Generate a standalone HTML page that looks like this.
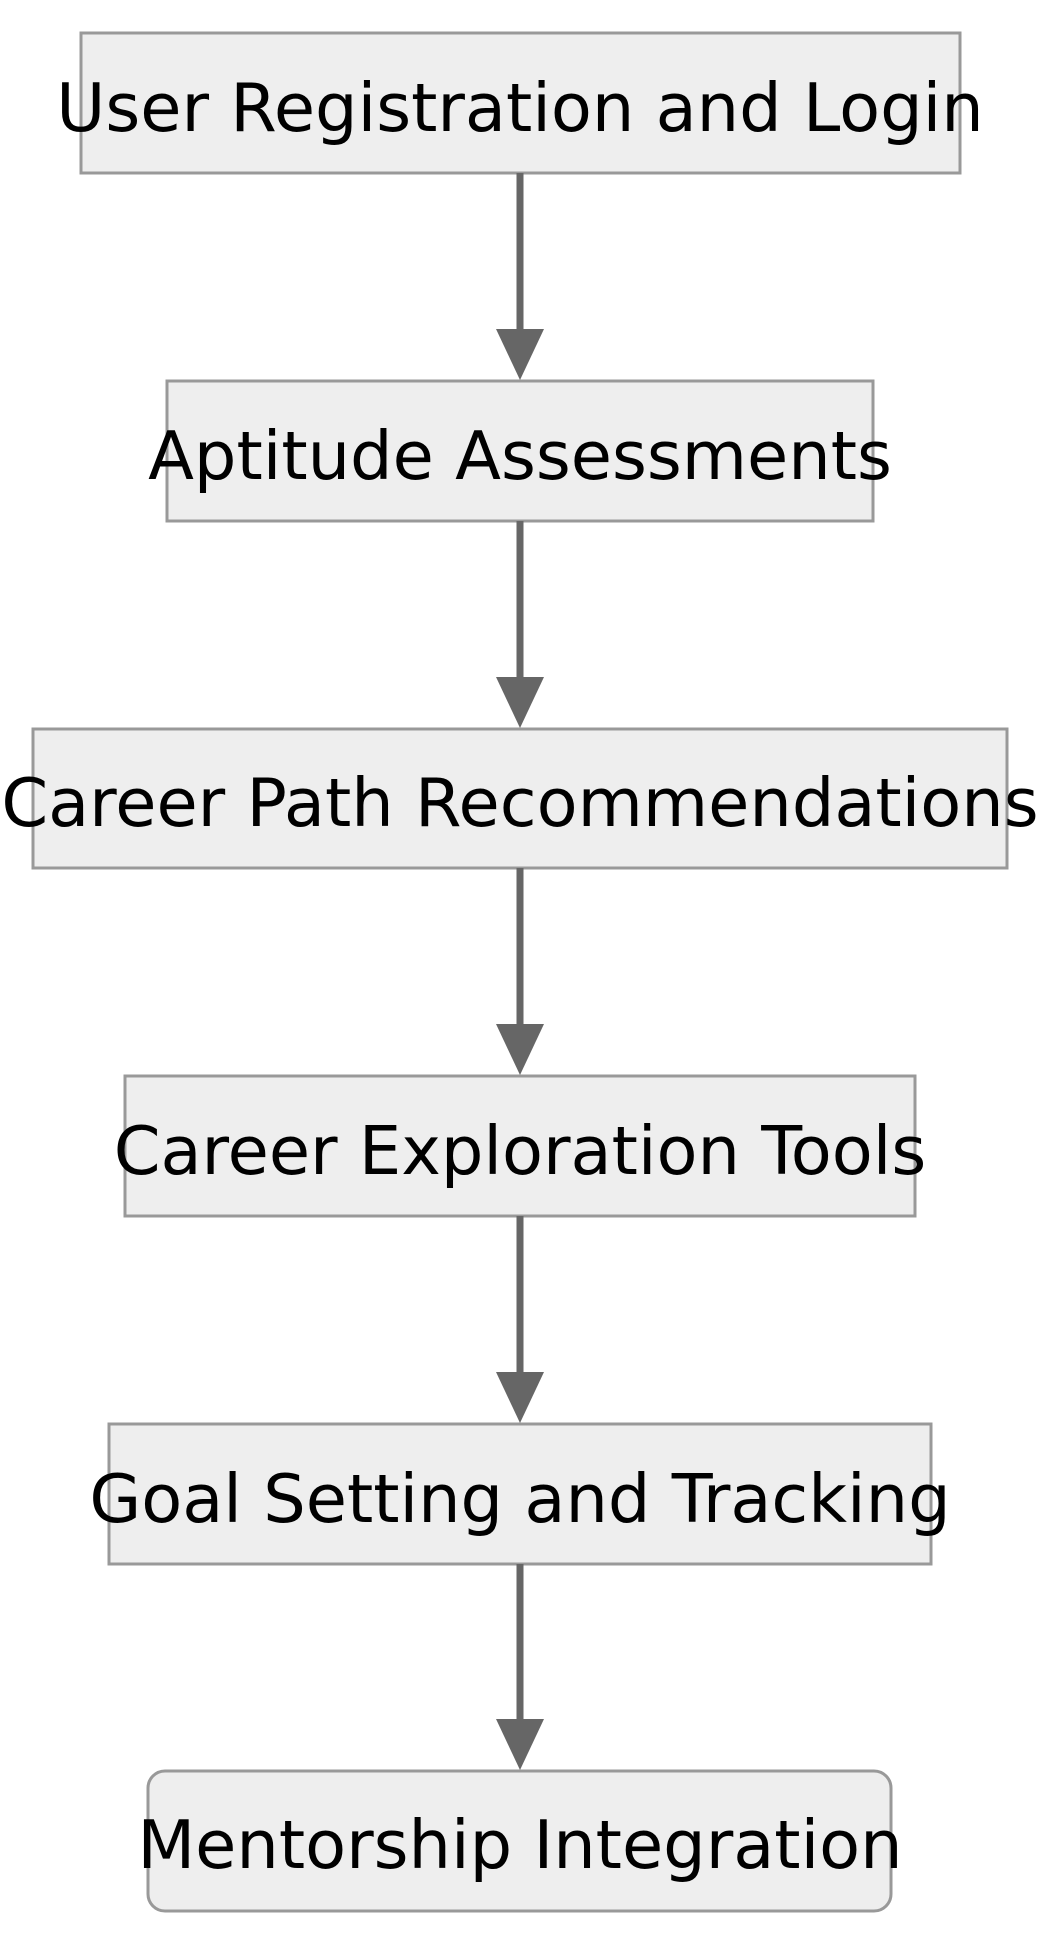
<!DOCTYPE html>
<html><head><meta charset="utf-8"><style>
html,body{margin:0;padding:0;background:#fff;}
svg{display:block;}
text{font-family:"DejaVu Sans","Liberation Sans",sans-serif;font-size:67px;fill:#000;text-anchor:middle;}
</style></head><body>
<svg width="1042" height="1943" viewBox="0 0 1042 1943" xmlns="http://www.w3.org/2000/svg">
<g fill="#eeeeee" stroke="#999999" stroke-width="3">
<rect x="81" y="33" width="879" height="140"/>
<rect x="167" y="381" width="706" height="140"/>
<rect x="33" y="729" width="974" height="139"/>
<rect x="125" y="1076" width="790" height="140"/>
<rect x="109" y="1424" width="822" height="140"/>
<rect x="148" y="1771" width="743" height="140" rx="17" ry="17"/>
</g>
<g stroke="#666666" stroke-width="7">
<line x1="520" y1="173" x2="520" y2="332"/>
<line x1="520" y1="521" x2="520" y2="680"/>
<line x1="520" y1="868" x2="520" y2="1028"/>
<line x1="520" y1="1216" x2="520" y2="1375"/>
<line x1="520" y1="1564" x2="520" y2="1723"/>
</g>
<g fill="#666666">
<polygon points="496,329 544,329 520,380"/>
<polygon points="496,677 544,677 520,728"/>
<polygon points="496,1024 544,1024 520,1075"/>
<polygon points="496,1372 544,1372 520,1423"/>
<polygon points="496,1719 544,1719 520,1770"/>
</g>
<text x="520" y="131">User Registration and Login</text>
<text x="520" y="479">Aptitude Assessments</text>
<text x="520" y="826">Career Path Recommendations</text>
<text x="520" y="1174">Career Exploration Tools</text>
<text x="520" y="1522">Goal Setting and Tracking</text>
<text x="520" y="1868">Mentorship Integration</text>
</svg>
</body></html>
